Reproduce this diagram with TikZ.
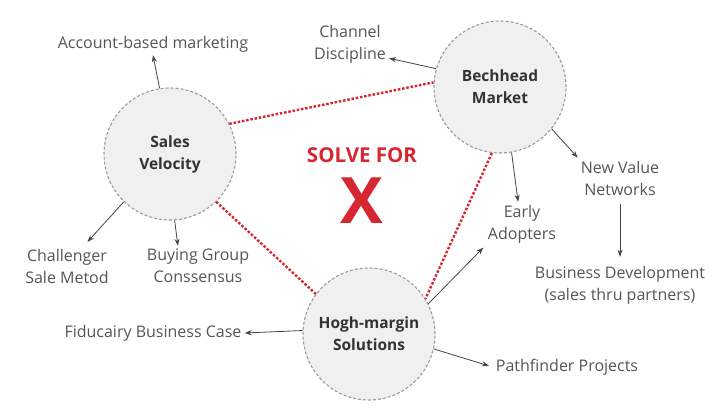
\documentclass[tikz,border=0pt]{standalone}
\usepackage{fontspec}
\setmainfont{Open Sans}
\usetikzlibrary{arrows.meta}
\definecolor{solvered}{HTML}{D62631}
\definecolor{ringgray}{HTML}{9A9A9A}
\definecolor{ringfill}{HTML}{F0F0F0}
\definecolor{labelgray}{HTML}{555555}
\definecolor{arrowgray}{HTML}{444444}
\begin{document}
\begin{tikzpicture}[x=1pt,y=-1pt,
    hub/.style={circle,draw=ringgray,fill=ringfill,line width=1.1pt,dash pattern=on 3pt off 2pt,
      minimum size=132pt,inner sep=0pt,align=center,text=black!80,font=\fontsize{15.5}{22}\selectfont\bfseries},
    lbl/.style={align=center,inner sep=3pt,text=labelgray,font=\fontsize{16}{22}\selectfont},
    arr/.style={draw=arrowgray,line width=0.8pt,-{Stealth[length=7pt,width=5pt]}},
    tie/.style={draw=solvered,line width=2.4pt,dash pattern=on 2.5pt off 1.8pt}]
    \useasboundingbox (0,0) rectangle (720,418);

    \node[hub] (sv) at (170,154) {Sales\\Velocity};
    \node[hub] (bm) at (500,87) {Bechhead\\Market};
    \node[hub] (hm) at (369,334) {Hogh-margin\\Solutions};

    \node[text=solvered,font=\fontsize{20.5}{24}\selectfont\bfseries] (solve) at (362,155) {SOLVE FOR};
    \node[text=solvered,font=\fontsize{64}{64}\selectfont\bfseries] (x) at (362,201) {X};

    \node[lbl] (abm) at (153,44) {Account-based marketing};
    \node[lbl] (cd) at (350,44) {Channel\\Discipline};
    \node[lbl] (nvn) at (620,178) {New Value\\Networks};
    \node[lbl] (ea) at (522,224) {Early\\Adopters};
    \node[lbl] (bd) at (620,285) {Business Development\\(sales thru partners)};
    \node[lbl] (csm) at (67,266) {Challenger\\Sale Metod};
    \node[lbl] (bgc) at (198,266) {Buying Group\\Conssensus};
    \node[lbl] (fbc) at (153,333) {Fiducairy Business Case};
    \node[lbl] (pp) at (567,367) {Pathfinder Projects};

    \draw[tie] (sv.27) -- (bm.176);
    \draw[tie] (sv.-46) -- (hm.143);
    \draw[tie] (bm.-97) -- (hm.32);

    \draw[arr] (sv.99) -- (abm.south);
    \draw[arr] (bm.164) -- (cd.-20);
    \draw[arr] (bm.-39) -- (nvn.north west);
    \draw[arr] (bm.-80) -- (ea.100);
    \draw[arr,shorten <=6pt,shorten >=6pt] (nvn.south) -- (bd.north);
    \draw[arr,shorten >=5pt] (sv.226) -- (csm.50);
    \draw[arr] (sv.-86) -- (bgc.135);
    \draw[arr] (hm.177) -- (fbc.east);
    \draw[arr,shorten >=4pt] (hm.-13) -- (pp.west);
    \draw[arr,shorten >=2pt] (hm.27) -- (ea.south west);
\end{tikzpicture}
\end{document}
